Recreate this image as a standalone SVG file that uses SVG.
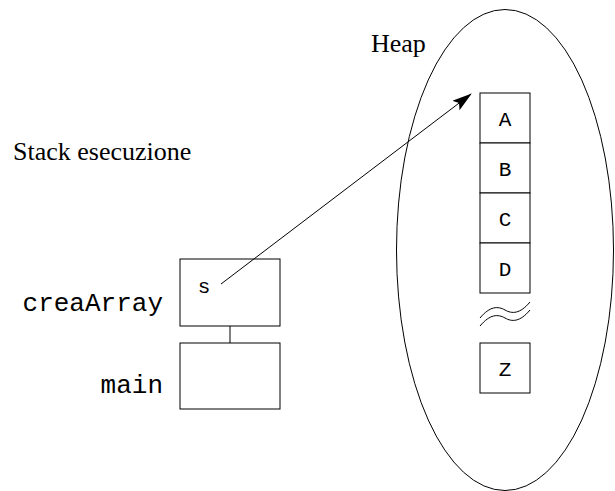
<svg xmlns="http://www.w3.org/2000/svg" width="615" height="491" viewBox="0 0 615 491">
<style>
.box{fill:#fff;stroke:#000;stroke-width:1}
.mono{font-family:"Liberation Mono",monospace;font-size:26px;fill:#000}
.cell{font-family:"Liberation Mono",monospace;font-size:21px;fill:#000}
.serif{font-family:"Liberation Serif",serif;font-size:26px;fill:#000}
.ln{fill:none;stroke:#000;stroke-width:1}
</style>
<defs>
<marker id="arr" markerWidth="20" markerHeight="12" refX="19" refY="6" orient="auto" markerUnits="userSpaceOnUse">
<path d="M0,0 L20,6 L0,12 L4,6 Z" fill="#000"/>
</marker>
</defs>
<rect width="615" height="491" fill="#fff"/>
<g id="heap">
<ellipse class="ln" cx="505" cy="250" rx="108.5" ry="240.5"/>
<text class="serif" x="371" y="52">Heap</text>
</g>
<text id="stack-label" class="serif" x="13" y="160">Stack esecuzione</text>
<g id="cellA"><rect class="box" x="480" y="93" width="50" height="50"/><text class="cell" x="505" y="126" text-anchor="middle">A</text></g>
<g id="cellB"><rect class="box" x="480" y="143" width="50" height="50"/><text class="cell" x="505" y="176" text-anchor="middle">B</text></g>
<g id="cellC"><rect class="box" x="480" y="193" width="50" height="50"/><text class="cell" x="505" y="226" text-anchor="middle">C</text></g>
<g id="cellD"><rect class="box" x="480" y="243" width="50" height="50"/><text class="cell" x="505" y="276" text-anchor="middle">D</text></g>
<g id="gap">
<path class="ln" d="M480,318 C490,306 498,306 505,310 C512,314 520,314 530,302"/>
<path class="ln" d="M480,326 C490,314 498,314 505,318 C512,322 520,322 530,310"/>
</g>
<g id="cellZ"><rect class="box" x="480" y="343" width="50" height="50"/><text class="cell" x="505" y="376" text-anchor="middle">Z</text></g>
<g id="creaArray">
<rect class="box" x="180" y="259" width="100" height="67"/>
<text class="cell" x="204" y="293" text-anchor="middle">s</text>
<text class="mono" x="163" y="311" text-anchor="end">creaArray</text>
</g>
<g id="main">
<rect class="box" x="180" y="343" width="100" height="66"/>
<text class="mono" x="163" y="393" text-anchor="end">main</text>
</g>
<g id="connectors">
<line class="ln" x1="230" y1="326" x2="230" y2="343"/>
<line class="ln" x1="221" y1="284" x2="471" y2="94" marker-end="url(#arr)"/>
</g>
</svg>
